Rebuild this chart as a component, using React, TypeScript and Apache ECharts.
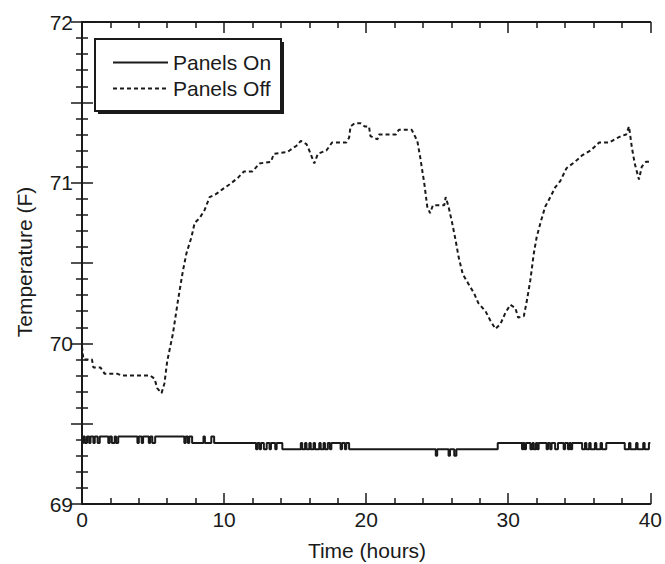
import React, { useEffect, useRef } from "react";
import * as echarts from "echarts";

// Panels On: step change points [time (h), temperature (F)]
const panelsOn: [number, number][] = [
  [0, 69.38], [0.1, 69.42], [0.2, 69.38], [0.35, 69.42], [0.5, 69.38], [0.6, 69.42], [0.8, 69.38], [0.9, 69.42], [1.1, 69.38], [1.25, 69.42],
  [1.85, 69.38], [1.95, 69.42], [2.1, 69.38], [2.3, 69.42], [2.4, 69.38], [2.55, 69.42],
  [3.9, 69.38], [4.0, 69.42], [4.2, 69.38], [4.3, 69.42], [4.7, 69.38], [4.8, 69.42], [4.95, 69.38], [5.15, 69.42],
  [7.2, 69.38], [7.3, 69.42], [7.45, 69.38], [7.55, 69.42], [7.75, 69.38],
  [8.55, 69.42], [8.65, 69.38], [9.1, 69.42], [9.3, 69.38],
  [12.25, 69.34], [12.35, 69.38], [12.5, 69.34], [12.6, 69.38], [12.8, 69.34], [13.0, 69.38], [13.2, 69.34], [13.3, 69.38], [13.6, 69.34], [13.7, 69.38], [14.1, 69.34],
  [15.4, 69.38], [15.5, 69.34], [15.7, 69.38], [15.8, 69.34], [16.0, 69.38], [16.1, 69.34], [16.3, 69.38], [16.4, 69.34], [16.7, 69.38], [16.8, 69.34],
  [17.0, 69.38], [17.1, 69.34], [17.3, 69.38], [17.45, 69.34], [17.55, 69.38], [18.2, 69.34], [18.3, 69.38], [18.5, 69.34], [18.6, 69.38], [18.8, 69.34],
  [24.9, 69.30], [25.0, 69.34], [25.8, 69.30], [25.9, 69.34], [26.2, 69.30], [26.35, 69.34],
  [29.26, 69.38],
  [30.97, 69.34], [31.05, 69.38], [31.15, 69.34], [31.25, 69.38], [31.56, 69.34], [31.7, 69.38], [31.8, 69.34], [31.95, 69.38], [32.05, 69.34], [32.14, 69.38],
  [32.7, 69.34], [32.8, 69.38], [32.95, 69.34], [33.05, 69.38], [33.3, 69.34], [33.5, 69.38],
  [33.9, 69.34], [34.0, 69.38], [34.2, 69.34], [34.3, 69.38], [34.4, 69.34], [34.5, 69.38],
  [35.2, 69.34], [35.4, 69.38], [35.5, 69.34], [35.7, 69.38], [35.8, 69.34], [36.1, 69.38], [36.2, 69.34], [36.5, 69.38], [36.6, 69.34], [36.9, 69.38],
  [38.2, 69.34], [38.5, 69.38], [38.6, 69.34], [39.0, 69.38], [39.1, 69.34], [39.5, 69.38], [39.6, 69.34], [39.9, 69.38], [40, 69.38],
];

// Panels Off: [time (h), temperature (F)]
const panelsOff: [number, number][] = [
  [0, 69.98], [0.1, 69.9], [0.7, 69.9], [0.8, 69.85], [1.3, 69.85], [1.6, 69.81], [2.5, 69.81], [2.8, 69.8], [4.8, 69.8],
  [5.1, 69.78], [5.3, 69.72], [5.6, 69.69], [5.8, 69.75], [6.0, 69.89], [6.4, 70.06], [6.76, 70.27], [7.1, 70.45], [7.35, 70.56],
  [7.7, 70.66], [7.93, 70.75], [8.28, 70.78], [8.63, 70.83], [8.98, 70.91], [9.45, 70.93], [9.9, 70.96], [10.4, 70.99],
  [10.97, 71.03], [11.4, 71.07], [12.0, 71.07], [12.5, 71.12], [13.3, 71.13], [13.5, 71.18], [14.4, 71.19], [14.6, 71.2],
  [15.1, 71.23], [15.4, 71.26], [15.8, 71.24], [16.0, 71.2], [16.35, 71.12], [16.6, 71.18], [17.2, 71.2], [17.6, 71.25],
  [18.6, 71.25], [18.8, 71.28], [18.9, 71.35], [19.2, 71.37], [19.6, 71.37], [19.9, 71.35], [20.2, 71.35], [20.3, 71.29],
  [20.8, 71.27], [20.9, 71.3], [22.1, 71.3], [22.3, 71.33], [23.2, 71.33], [23.6, 71.26], [23.8, 71.16], [24.1, 70.99],
  [24.3, 70.85], [24.5, 70.81], [24.7, 70.86], [25.5, 70.86], [25.6, 70.91], [25.8, 70.85], [26.05, 70.75], [26.3, 70.64],
  [26.5, 70.54], [26.8, 70.43], [27.2, 70.37], [27.6, 70.31], [27.9, 70.25], [28.4, 70.2], [28.75, 70.14], [29.1, 70.09],
  [29.45, 70.12], [29.8, 70.19], [30.15, 70.24], [30.5, 70.22], [30.7, 70.16], [31.1, 70.17], [31.3, 70.26], [31.55, 70.39],
  [31.8, 70.56], [32.0, 70.66], [32.3, 70.76], [32.6, 70.85], [32.96, 70.91], [33.3, 70.97], [33.66, 71.01], [34.1, 71.09],
  [34.7, 71.13], [35.2, 71.17], [35.8, 71.2], [36.4, 71.25], [37.1, 71.25], [37.5, 71.27], [37.95, 71.29], [38.3, 71.3],
  [38.5, 71.35], [38.7, 71.22], [38.9, 71.12], [39.2, 71.02], [39.4, 71.1], [39.7, 71.13], [40, 71.13],
];

const seriesNames = ["Panels On", "Panels Off"];
const xTitle = "Time (hours)";
const yTitle = "Temperature (F)";

const FONT = "'Liberation Sans', Arial, Helvetica, sans-serif";
const INK = "#1a1a1a";

export default function App() {
  const ref = useRef<HTMLDivElement>(null);

  useEffect(() => {
    if (!ref.current) return;
    const chart = echarts.init(ref.current, undefined, { renderer: "svg" });

    const tickCommon = {
      axisLine: { show: true, lineStyle: { color: INK, width: 2 } },
      axisTick: { show: true, inside: true, length: 11, lineStyle: { color: INK, width: 1.5 } },
      minorTick: { show: true, splitNumber: 5, length: 6, lineStyle: { color: INK, width: 1.5 } },
      splitLine: { show: false },
      minorSplitLine: { show: false },
    };

    chart.setOption({
      animation: false,
      backgroundColor: "#ffffff",
      grid: { left: 82, right: 13, top: 22, bottom: 60 },
      xAxis: [
        {
          type: "value", min: 0, max: 40, interval: 10, position: "bottom",
          ...tickCommon,
          axisLabel: { show: true, margin: 5, fontSize: 21, color: INK, fontFamily: FONT },
        },
        {
          type: "value", min: 0, max: 40, interval: 10, position: "top",
          ...tickCommon,
          axisLabel: { show: false },
        },
      ],
      yAxis: [
        {
          type: "value", min: 69, max: 72, interval: 0.5, position: "left",
          ...tickCommon,
          axisLabel: {
            show: true, margin: 9, fontSize: 21, color: INK, fontFamily: FONT,
            formatter: (v: number) => (Math.abs(v - Math.round(v)) < 1e-9 ? String(Math.round(v)) : ""),
          },
        },
        {
          type: "value", min: 69, max: 72, interval: 0.5, position: "right",
          ...tickCommon,
          axisLabel: { show: false },
        },
      ],
      legend: {
        show: true,
        orient: "vertical",
        left: 107,
        top: 47,
        itemWidth: 55,
        itemHeight: 14,
        itemGap: 5,
        z: 10,
        itemStyle: { opacity: 0 },
        textStyle: { fontSize: 21, color: INK, fontFamily: FONT },
        data: seriesNames,
      },
      graphic: [
        { type: "rect", z: 1, shape: { x: 98, y: 42, width: 186, height: 72 }, style: { fill: INK } },
        { type: "rect", z: 2, shape: { x: 95, y: 39, width: 186, height: 72 }, style: { fill: "#ffffff", stroke: INK, lineWidth: 2 } },
        {
          type: "text", z: 3, x: 367, y: 550,
          style: { text: xTitle, align: "center", verticalAlign: "middle", fontSize: 21, fontFamily: FONT, fill: INK },
        },
        {
          type: "text", z: 3, x: 24, y: 262, rotation: Math.PI / 2,
          style: { text: yTitle, align: "center", verticalAlign: "middle", fontSize: 21, fontFamily: FONT, fill: INK },
        },
      ],
      series: [
        {
          name: seriesNames[0],
          type: "line",
          step: "end",
          symbol: "none",
          xAxisIndex: 0, yAxisIndex: 0,
          data: panelsOn,
          lineStyle: { color: INK, width: 2 },
          itemStyle: { color: INK },
        },
        {
          name: seriesNames[1],
          type: "line",
          symbol: "none",
          xAxisIndex: 0, yAxisIndex: 0,
          data: panelsOff,
          lineStyle: { color: INK, width: 2, type: [4, 3] },
          itemStyle: { color: INK },
        },
      ],
    });

    return () => chart.dispose();
  }, []);

  return (
    <div
      ref={ref}
      style={{ position: "fixed", left: 0, top: 0, width: 665, height: 564, background: "#fff" }}
    />
  );
}
